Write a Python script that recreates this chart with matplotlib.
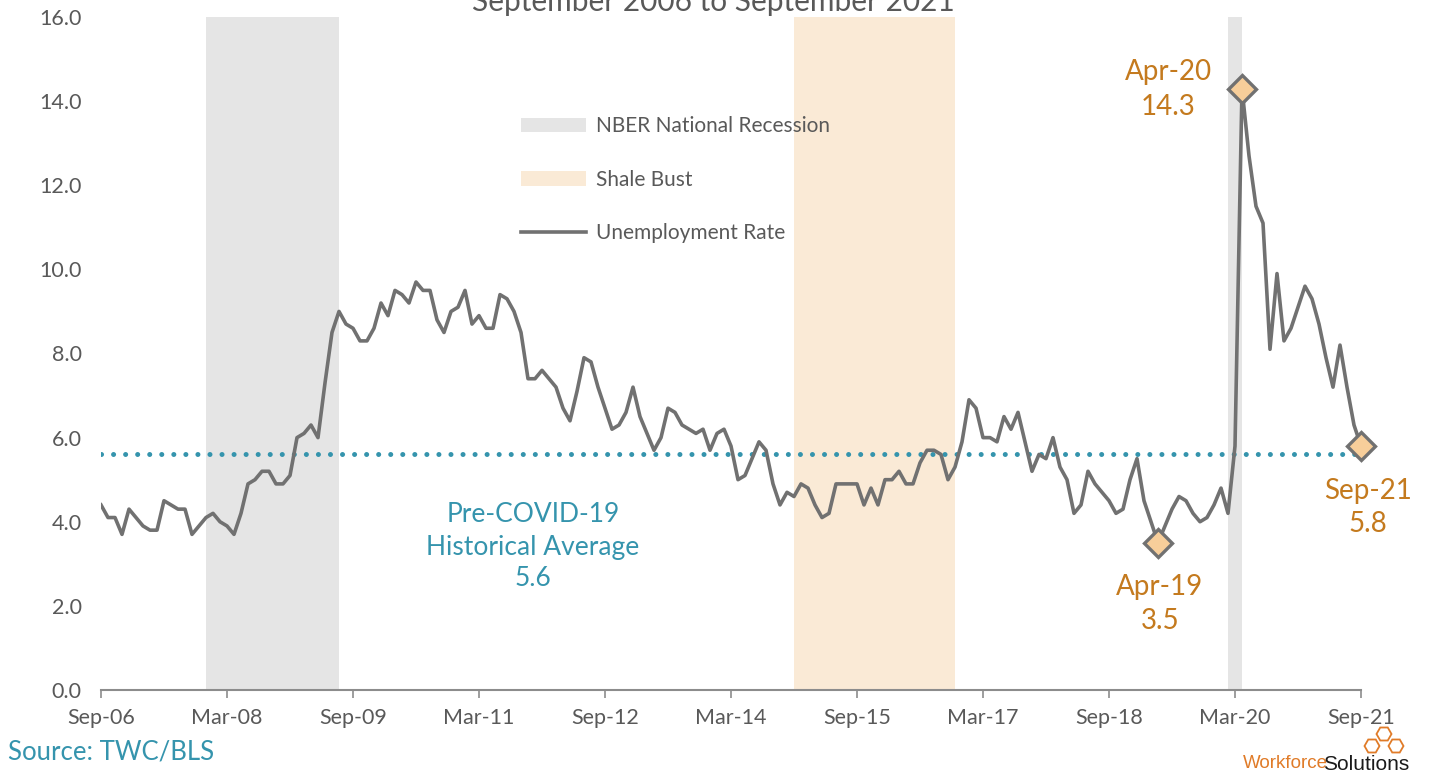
import matplotlib
matplotlib.use("Agg")
import matplotlib.pyplot as plt
import pandas as pd
from matplotlib.lines import Line2D
from matplotlib.patches import Patch, RegularPolygon

W, H = 1437, 776

# monthly unemployment rate, Sep-06 .. Sep-21
months = pd.date_range("2006-09-01", "2021-09-01", freq="MS")
rate = [
    4.4, 4.1, 4.1, 3.7, 4.3, 4.1, 3.9, 3.8, 3.8, 4.5, 4.4, 4.3,   # Sep-06..Aug-07
    4.3, 3.7, 3.9, 4.1, 4.2, 4.0, 3.9, 3.7, 4.2, 4.9, 5.0, 5.2,   # Sep-07..Aug-08
    5.2, 4.9, 4.9, 5.1, 6.0, 6.1, 6.3, 6.0, 7.3, 8.5, 9.0, 8.7,   # Sep-08..Aug-09
    8.6, 8.3, 8.3, 8.6, 9.2, 8.9, 9.5, 9.4, 9.2, 9.7, 9.5, 9.5,   # Sep-09..Aug-10
    8.8, 8.5, 9.0, 9.1, 9.5, 8.7, 8.9, 8.6, 8.6, 9.4, 9.3, 9.0,   # Sep-10..Aug-11
    8.5, 7.4, 7.4, 7.6, 7.4, 7.2, 6.7, 6.4, 7.1, 7.9, 7.8, 7.2,   # Sep-11..Aug-12
    6.7, 6.2, 6.3, 6.6, 7.2, 6.5, 6.1, 5.7, 6.0, 6.7, 6.6, 6.3,   # Sep-12..Aug-13
    6.2, 6.1, 6.2, 5.7, 6.1, 6.2, 5.8, 5.0, 5.1, 5.5, 5.9, 5.7,   # Sep-13..Aug-14
    4.9, 4.4, 4.7, 4.6, 4.9, 4.8, 4.4, 4.1, 4.2, 4.9, 4.9, 4.9,   # Sep-14..Aug-15
    4.9, 4.4, 4.8, 4.4, 5.0, 5.0, 5.2, 4.9, 4.9, 5.4, 5.7, 5.7,   # Sep-15..Aug-16
    5.6, 5.0, 5.3, 5.9, 6.9, 6.7, 6.0, 6.0, 5.9, 6.5, 6.2, 6.6,   # Sep-16..Aug-17
    5.9, 5.2, 5.6, 5.5, 6.0, 5.3, 5.0, 4.2, 4.4, 5.2, 4.9, 4.7,   # Sep-17..Aug-18
    4.5, 4.2, 4.3, 5.0, 5.5, 4.5, 4.0, 3.5, 3.9, 4.3, 4.6, 4.5,   # Sep-18..Aug-19
    4.2, 4.0, 4.1, 4.4, 4.8, 4.2, 5.8, 14.3, 12.7, 11.5, 11.1, 8.1,  # Sep-19..Aug-20
    9.9, 8.3, 8.6, 9.1, 9.6, 9.3, 8.7, 7.9, 7.2, 8.2, 7.2, 6.3,   # Sep-20..Aug-21
    5.8,                                                          # Sep-21
]
pre_covid_avg = 5.6

# shaded periods, as month index ranges
nber_recessions = [(15, 34), (161, 163)]
shale_bust = (99, 122)

# highlighted points: (label, month index)
callouts = [("Apr-19", 151), ("Apr-20", 163), ("Sep-21", 180)]

tick_idx = list(range(0, 181, 18))
tick_labels = [months[i].strftime("%b-%y") for i in tick_idx]

GREY_TXT = "#595959"
LINE = "#717171"
TEAL = "#3594AD"
ORANGE = "#C47A1E"
REC = "#E5E5E5"
SHALE = "#FAEAD6"
FONT = ["Lato", "DejaVu Sans"]

plt.rcParams["font.family"] = FONT

fig = plt.figure(figsize=(W / 100, H / 100), dpi=100)
ax = fig.add_axes([101 / W, 1 - 690 / H, 1260 / W, 673 / H])

x = list(range(len(rate)))
for a, b in nber_recessions:
    ax.axvspan(a, b, color=REC, lw=0, zorder=0)
ax.axvspan(shale_bust[0], shale_bust[1], color=SHALE, lw=0, zorder=0)

ax.plot([x[0], x[-1]], [pre_covid_avg, pre_covid_avg], color=TEAL, lw=3.6,
        linestyle=(0, (0.01, 2.4)), dash_capstyle="round", zorder=2)
ax.plot(x, rate, color=LINE, lw=2.6, zorder=3)

cx = [i for _, i in callouts]
cy = [rate[i] for i in cx]
ax.plot(cx, cy, linestyle="none", marker="D", ms=14, mfc="#F7CE9A",
        mec=LINE, mew=2.4, zorder=4, clip_on=False)

ax.set_xlim(0, 180)
ax.set_ylim(0, 16)
ax.set_yticks(range(0, 17, 2))
ax.set_yticklabels([f"{v:.1f}" for v in range(0, 17, 2)])
ax.set_xticks(tick_idx)
ax.set_xticklabels(tick_labels)
ax.tick_params(axis="y", length=0, pad=14, labelsize=15.5, labelcolor=GREY_TXT)
ax.tick_params(axis="x", length=6, width=1.2, color="#8C8C8C", pad=7,
               labelsize=15.5, labelcolor=GREY_TXT)
for s in ["top", "right", "left"]:
    ax.spines[s].set_visible(False)
ax.spines["bottom"].set_color("#8C8C8C")
ax.spines["bottom"].set_linewidth(1.5)


def px(xp, yp):
    return xp / W, 1 - yp / H


# legend
handles = [Patch(facecolor=REC, edgecolor="none"),
           Patch(facecolor=SHALE, edgecolor="none"),
           Line2D([], [], color=LINE, lw=2.6)]
labels = ["NBER National Recession", "Shale Bust", "Unemployment Rate"]
fig.legend(handles, labels, loc="upper left", bbox_to_anchor=px(511, 106),
           frameon=False, fontsize=15, handlelength=3.1, handleheight=0.67,
           handletextpad=0.5, labelspacing=1.6, borderpad=0,
           labelcolor=GREY_TXT)

# average label
for txt, yp in [("Pre-COVID-19", 515), ("Historical Average", 547), ("5.6", 578)]:
    fig.text(*px(533, yp), txt, color=TEAL, fontsize=19, ha="center", va="center")

# callout labels
label_pos = {"Apr-19": (1160, 587, 621), "Apr-20": (1168, 72, 107), "Sep-21": (1368, 491, 524)}
for name, i in callouts:
    xp, y1, y2 = label_pos[name]
    fig.text(*px(xp, y1), name, color=ORANGE, fontsize=20, ha="center", va="center")
    fig.text(*px(xp, y2), f"{rate[i]:.1f}", color=ORANGE, fontsize=20, ha="center", va="center")

# clipped subtitle at top
fig.text(713 / W, 0.997, "September 2006 to September 2021", color=GREY_TXT,
         fontsize=21.5, ha="center", va="center")

fig.text(*px(8, 752), "Source: TWC/BLS", color=TEAL, fontsize=18.5, ha="left", va="center")

# logo
fig.text(*px(1243, 764), "Workforce", color="#E07B28", fontsize=13.5, ha="left", va="center",
         family="Liberation Sans")
fig.text(*px(1323, 764), "Solutions", color="#1A1A1A", fontsize=15, ha="left", va="center",
         family="Liberation Sans")
lax = fig.add_axes([1340 / W, 1 - 756 / H, 80 / W, 30 / H])
lax.set_xlim(1340, 1420)
lax.set_ylim(756, 726)
lax.set_aspect("equal")
lax.axis("off")
for hx, hy in [(1372, 746), (1396, 746), (1384, 734)]:
    lax.add_patch(RegularPolygon((hx, hy), 6, radius=7.5, orientation=0.5236,
                                 fill=False, ec="#E07B28", lw=1.3))

fig.savefig("out.png", dpi=100)
